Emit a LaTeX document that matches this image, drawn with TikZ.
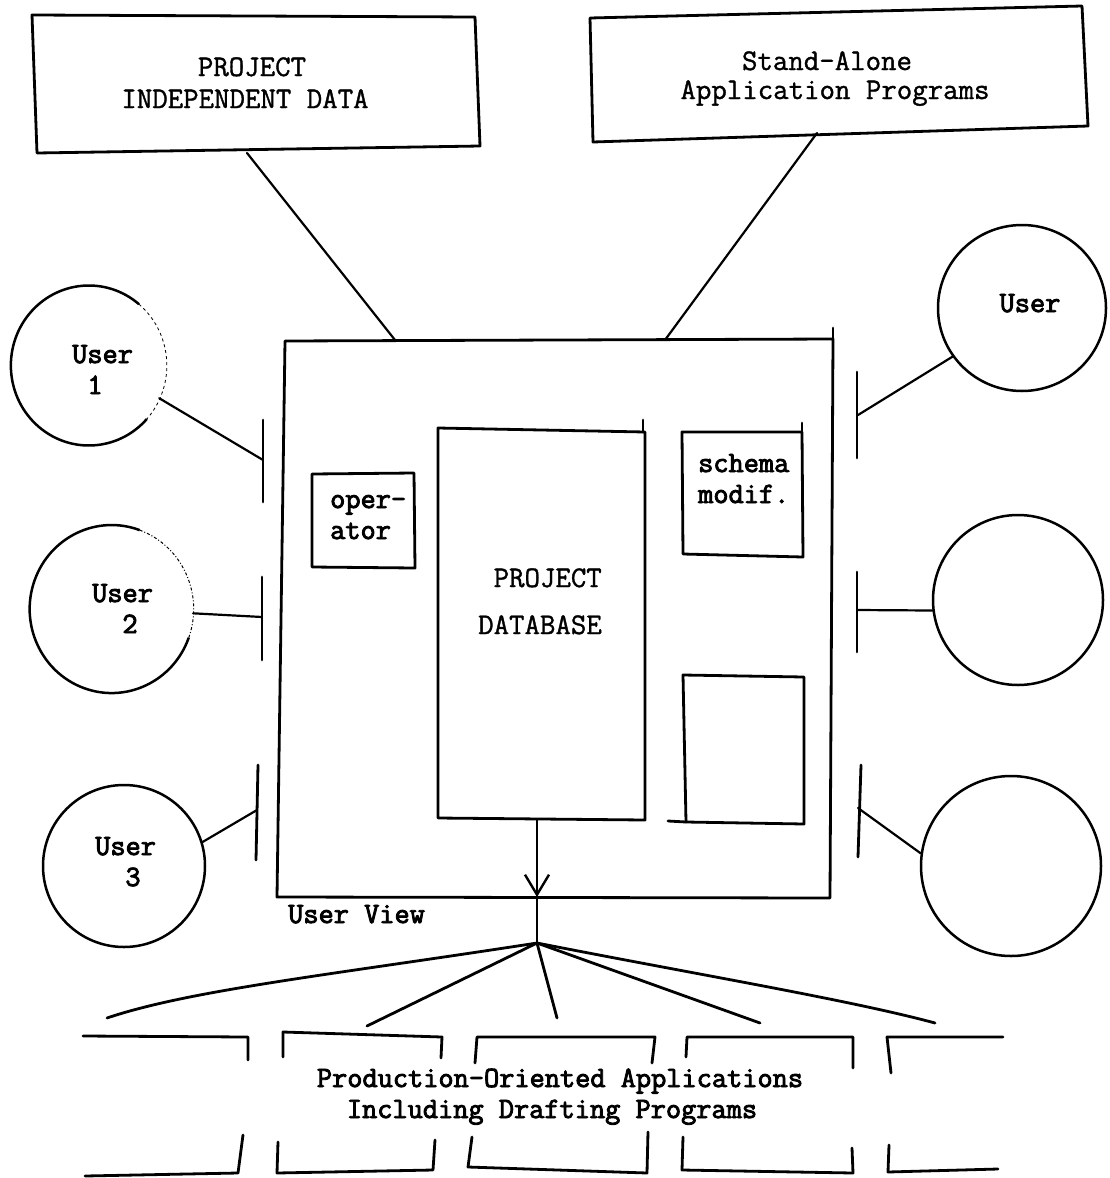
\documentclass[tikz,border=0pt]{standalone}
\usepackage{fontspec}
\newfontfamily\tw[FakeBold=1.2]{Latin Modern Mono}
\newfontfamily\twb[FakeBold=3]{Latin Modern Mono}
\usetikzlibrary{shapes.geometric,arrows.meta}
\begin{document}
\begin{tikzpicture}[x=1pt,y=-1pt,
  txt/.style={inner sep=0pt, font=\tw\fontsize{30}{32}\selectfont},
  btxt/.style={inner sep=0pt, font=\twb\fontsize{29.5}{32}\selectfont},
  box/.style={line width=2.8pt, line join=round, line cap=round},
  con/.style={line width=2.2pt, line cap=round, line join=round},
  fan/.style={line width=2.8pt, line cap=round},
  tick/.style={line width=2.8pt, line cap=round},
  ring/.style={ellipse, inner sep=0pt, draw, line width=2.5pt},
  ringopen/.style={ellipse, inner sep=0pt, draw=none},
]
\useasboundingbox (0,0) rectangle (1109,1178);

% ---------- top boxes ----------
\draw[box] (32,15) -- (475,17) -- (480,146) -- (37,153) -- cycle;
\node[txt, anchor=base] (pid1) at (252,76) {PROJECT};
\node[txt, anchor=base] (pid2) at (245,108) {INDEPENDENT DATA};

\draw[box] (590,18) -- (1082,6) -- (1088,126) -- (593,142) -- cycle;
\node[txt, anchor=base] (sa1) at (827,70) {Stand-Alone};
\node[txt, anchor=base] (sa2) at (835,99) {Application Programs};

\coordinate (pidB) at (247,153);
\coordinate (saB) at (817,133);

% ---------- main box ----------
\draw[box] (285,341) -- (833,339) -- (830,898) -- (277,897) -- cycle;
\draw[box] (833,339) -- (833,328);
\coordinate (mbA) at (395,340);
\coordinate (mbB) at (665,340);
\draw[con] (pidB) -- (mbA);
\draw[con] (saB) -- (mbB);
\node[btxt, anchor=base west] (uview) at (288,923) {User View};

% operator
\draw[box] (312,474) -- (414,473) -- (415,568) -- (312,567) -- cycle;
\node[btxt, anchor=base west] (op1) at (330,508) {oper-};
\node[btxt, anchor=base west] (op2) at (330,539) {ator};

% project database
\draw[box] (438,428) -- (645,432) -- (645,820) -- (438,818) -- cycle;
\draw[box] (643,432) -- (643,420);
\node[txt, anchor=base east] (db1) at (602,587) {PROJECT};
\node[txt, anchor=base east] (db2) at (602,634) {DATABASE};

% schema modif.
\draw[box] (682,432) -- (802,432) -- (803,557) -- (683,554) -- cycle;
\draw[box] (802,432) -- (802,423);
\node[btxt, anchor=base west] (sm1) at (698,472) {schema};
\node[btxt, anchor=base west] (sm2) at (698,503) {modif.};

% empty box
\draw[box] (683,675) -- (804,677) -- (804,824) -- (686,822) -- cycle;
\draw[box] (686,822) -- (668,821);

% ---------- left users ----------
\node[ringopen, minimum width=156pt, minimum height=160pt] (u1) at (88,365) {};
\draw[line width=2.5pt] (u1.50) arc[start angle=-50, end angle=-318, x radius=78, y radius=80];
\draw[line width=0.8pt, dashed] (u1.50) arc[start angle=-50, end angle=42, x radius=78, y radius=80];
\node[btxt, anchor=base west] (u1a) at (72,363) {User};
\node[btxt, anchor=base] (u1b) at (95,394) {1};

\node[ringopen, minimum width=164pt, minimum height=168pt] (u2) at (111,609) {};
\draw[line width=2.5pt] (u2.70) arc[start angle=-70, end angle=-340, x radius=82, y radius=84];
\draw[line width=1pt, dash dot] (u2.70) arc[start angle=-70, end angle=20, x radius=82, y radius=84];
\node[btxt, anchor=base west] (u2a) at (92,602) {User};
\node[btxt, anchor=base] (u2b) at (130,633) {2};

\node[ring, minimum width=162pt, minimum height=162pt] (u3) at (124,866) {};
\node[btxt, anchor=base west] (u3a) at (95,855) {User};
\node[btxt, anchor=base] (u3b) at (133,886) {3};

% left ticks
\draw[tick] (263,420) -- (263,502);
\draw[tick] (262,577) -- (262,660);
\draw[tick] (258,765) -- (256,860);
\coordinate (t1) at (263,460);
\coordinate (t2) at (262,617);
\coordinate (t3) at (257,810);
\draw[con] (u1.335) -- (t1);
\draw[con] (u2.357) -- (t2);
\draw[con] (u3.17) -- (t3);

% ---------- right users ----------
\node[ring, minimum width=168pt, minimum height=166pt] (r1) at (1022,308) {};
\node[btxt, anchor=base] (r1a) at (1030,312) {User};
\node[ring, minimum width=170pt, minimum height=170pt] (r2) at (1018,600) {};
\node[ring, minimum width=180pt, minimum height=180pt] (r3) at (1011,866) {};

\draw[tick] (857,372) -- (857,458);
\draw[tick] (857,572) -- (857,652);
\draw[tick] (861,765) -- (858,857);
\coordinate (s1) at (858,415);
\coordinate (s2) at (857,610);
\coordinate (s3) at (858,808);
\draw[con] (r1.215) -- (s1);
\draw[con] (r2.187) -- (s2);
\draw[con] (r3.172) -- (s3);

% ---------- output arrow and fan ----------
\coordinate (dbB) at (537,820);
\coordinate (tip) at (537,897);
\coordinate (hub) at (537,943);
\draw[con, -{Straight Barb[length=20pt,width=24pt,line width=2.4pt]}] (dbB) -- (tip);
\draw[con] (tip) -- (hub);

\coordinate (f1) at (107,1018);
\coordinate (f2) at (367,1026);
\coordinate (f3) at (557,1018);
\coordinate (f4) at (760,1023);
\coordinate (f5) at (935,1023);
\draw[fan] (hub) .. controls (330,975) and (190,990) .. (f1);
\draw[fan] (hub) -- (f2);
\draw[fan] (hub) -- (f3);
\draw[fan] (hub) -- (f4);
\draw[fan] (hub) .. controls (700,975) and (850,1000) .. (f5);

% ---------- brackets ----------
\draw[box] (83,1036) -- (248,1037) -- (248,1060);
\draw[box] (283,1057) -- (283,1032) -- (442,1037) -- (441,1058);
\draw[box] (475,1063) -- (477,1037) -- (655,1037) -- (652,1063);
\draw[box] (686,1057) -- (687,1037) -- (853,1037) -- (853,1068);
\draw[box] (891,1073) -- (887,1037) -- (1003,1037);

\draw[box] (85,1176) -- (238,1173) -- (243,1135);
\draw[box] (278,1142) -- (277,1173) -- (433,1170) -- (435,1140);
\draw[box] (472,1137) -- (468,1167) -- (647,1173) -- (648,1132);
\draw[box] (683,1137) -- (682,1170) -- (853,1173) -- (852,1148);
\draw[box] (889,1145) -- (888,1172) -- (998,1169);

\node[btxt, anchor=base] (pa1) at (560,1087) {Production-Oriented Applications};
\node[btxt, anchor=base] (pa2) at (552,1118) {Including Drafting Programs};

\end{tikzpicture}
\end{document}
